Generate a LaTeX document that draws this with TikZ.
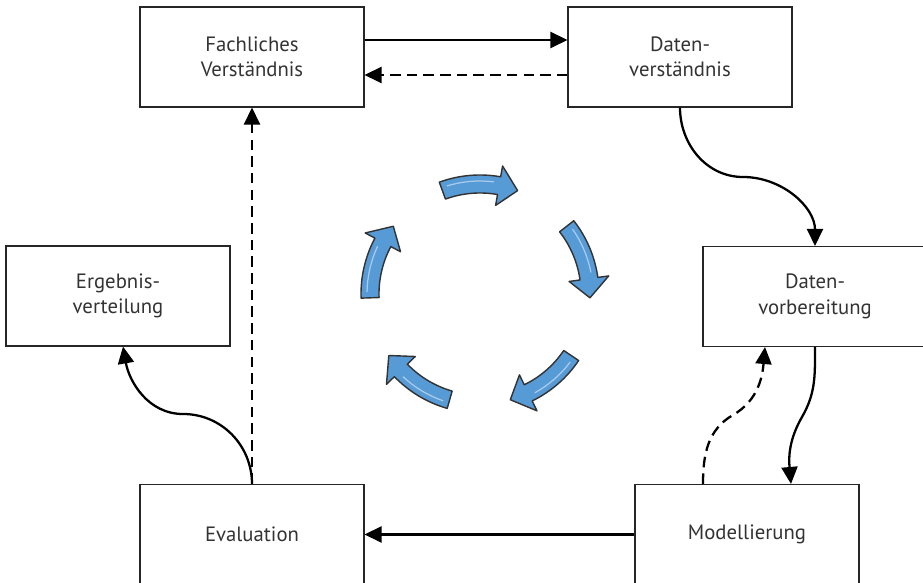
\documentclass[tikz,border=0pt]{standalone}
\usepackage{fontspec}
\setmainfont{PT Sans}
\usetikzlibrary{positioning,arrows.meta}

\definecolor{cycblue}{RGB}{86,154,214}
\definecolor{boxtext}{RGB}{51,51,51}

\begin{document}
\begin{tikzpicture}[
    phase/.style={draw=black!85,line width=0.6pt,minimum width=4.48cm,minimum height=2cm,
        align=center,text=boxtext,font=\fontsize{11.8}{14.5}\selectfont},
    flow/.style={line width=1.3pt,-{Triangle[length=0.34cm,width=0.32cm]}},
    back/.style={flow,dash pattern=on 6pt off 3.5pt},
    cycarrow/.style={fill=cycblue,draw=black!80,line width=0.8pt,line join=round}
]
    \useasboundingbox (0,0) rectangle (18.46,11.66);

    % phases
    \node[phase] (fach) at (5.04,10.52) {Fachliches\\Verständnis};
    \node[phase] (datenv) at (13.6,10.52) {Daten-\\verständnis};
    \node[phase] (vorb) at (16.3,5.73) {Daten-\\vorbereitung};
    \node[phase] (modell) at (14.94,0.97) {Modellierung};
    \node[phase] (eval) at (5.04,0.97) {Evaluation};
    \node[phase] (ergeb) at (2.36,5.74) {Ergebnis-\\verteilung};

    % bends of the curved connectors
    \coordinate (bendA) at (14.86,8.12);
    \coordinate (bendB) at (16.04,3.32);
    \coordinate (bendC) at (14.66,3.36);
    \coordinate (bendD) at (3.66,3.38);

    % connectors
    \draw[flow] ([yshift=0.34cm]fach.east) -- ([yshift=0.34cm]datenv.west);
    \draw[back] ([yshift=-0.36cm]datenv.west) -- ([yshift=-0.36cm]fach.east);
    \draw[flow] (datenv.south) to[out=-90,in=180] (bendA) to[out=0,in=90] (vorb.north);
    \draw[flow] (vorb.south) to[out=-90,in=60] (bendB) to[out=-120,in=95] ([xshift=0.88cm]modell.north);
    \draw[back] ([xshift=-0.88cm]modell.north) to[out=90,in=-150] (bendC) to[out=30,in=-95] ([xshift=-1cm]vorb.south);
    \draw[flow] (modell.west) -- (eval.east);
    \draw[back] (eval.north) -- (fach.south);
    \draw[flow] (eval.north) to[out=90,in=0] (bendD) to[out=180,in=-80] ([xshift=0.1cm]ergeb.south);

    % cycle in the middle
    \begin{scope}[shift={(9.6,5.78)}]
        \foreach \ang [evaluate=\ang as \start using \ang+20,
                       evaluate=\ang as \hbase using \ang-10,
                       evaluate=\ang as \tip using \ang-20] in {90,18,-54,-126,-198} {
            \filldraw[cycarrow] (\start:2.38) arc[start angle=\start,end angle=\hbase,radius=2.38]
                -- (\hbase:2.6) -- (\tip:2.2) -- (\hbase:1.8) -- (\hbase:2.02)
                arc[start angle=\hbase,end angle=\start,radius=2.02] -- cycle;
            \draw[white,opacity=0.5,line width=0.7pt] (\start-3:2.26) arc[start angle=\start-3,end angle=\hbase+3,radius=2.26];
        }
    \end{scope}
\end{tikzpicture}
\end{document}
